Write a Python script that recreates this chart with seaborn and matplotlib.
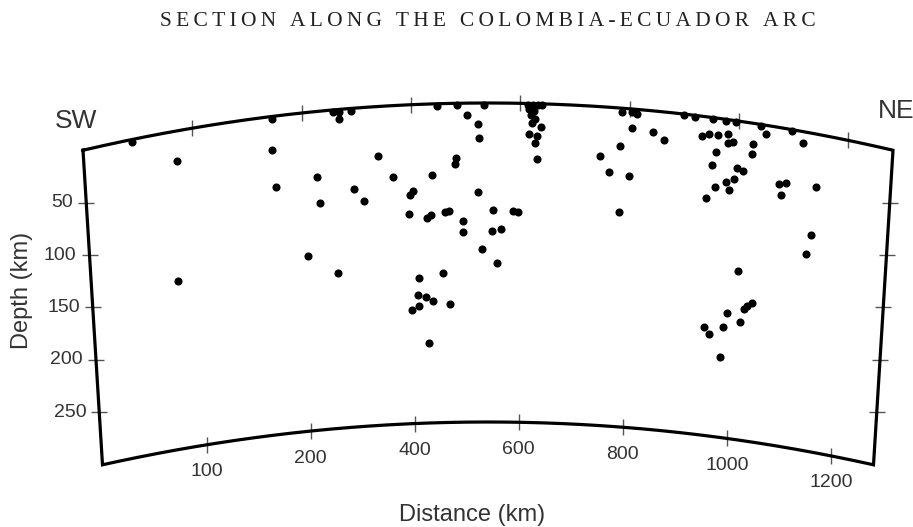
import numpy as np
import pandas as pd
import matplotlib
matplotlib.use("Agg")
import matplotlib.pyplot as plt
import matplotlib.transforms as mtransforms
import seaborn as sns

# ---------------- data ----------------
distance_km = [-110, -31, -39, 146, 144, 149, 204, 225, 229, 257, 268, 268, 290, 260, 293,
               311, 338, 365, 396, 402, 394, 411, 437, 427, 435, 448, 461, 468, 456, 409,
               424, 437, 469, 397, 411, 429, 482, 480, 484, 503, 494, 494, 534, 523, 524,
               522, 550, 588, 597, 549, 565, 530, 558, 614, 623, 632, 640, 616, 625, 620,
               627, 622, 638, 616, 631, 628, 631, 786, 805, 814, 805, 844, 864, 784, 747,
               765, 802, 785, 900, 920, 953, 977, 995, 1041, 1097, 934, 946, 963, 981, 991,
               982, 1050, 1027, 1026, 1118, 960, 954, 1000, 1011, 995, 981, 987, 961, 945, 1078,
               1091, 1083, 1146, 1141, 1133, 1009, 1038, 1028, 1023, 992, 1017, 985, 949, 959, 981]
depth_km = [2, 28, 141, 2, 32, 67, 135, 62, 86, 2, 2, 9, 2, 154, 76,
            88, 47, 67, 85, 81, 103, 163, 67, 107, 104, 2, 102, 101, 159, 179,
            181, 185, 189, 193, 190, 225, 51, 57, 2, 11, 111, 121, 2, 20, 33,
            84, 101, 101, 102, 120, 118, 137, 150, 1, 1, 1, 1, 5, 7, 11,
            14, 18, 22, 29, 30, 37, 52, 4, 3, 4, 18, 20, 26, 36, 46,
            61, 63, 98, 1, 2, 1, 2, 1, 1, 1, 19, 16, 16, 14, 20,
            22, 8, 20, 29, 11, 32, 45, 44, 46, 55, 59, 66, 65, 76, 53,
            51, 63, 50, 96, 115, 141, 169, 173, 176, 182, 189, 196, 198, 204, 224]

dist_ticks = [0, 200, 400, 600, 800, 1000, 1200]
dist_tick_labels = ["100", "200", "400", "600", "800", "1000", "1200"]
depth_ticks = [50, 100, 150, 200, 250]
depth_tick_labels = ["50", "100", "150", "200", "250"]
dist_limits = (-200, 1282)
depth_limits = (0, 300)
title_text = "SECTION ALONG THE COLOMBIA-ECUADOR ARC"
left_end, right_end = "SW", "NE"
x_label, y_label = "Distance (km)", "Depth (km)"

df = pd.DataFrame({"distance": distance_km, "depth": depth_km})


# ---------------- curved section transform ----------------
class SectionTransform(mtransforms.Transform):
    """(distance, depth) -> figure pixel position on a curved cross-section."""
    input_dims = 2
    output_dims = 2
    is_separable = False
    has_inverse = False

    def __init__(self, d0, d1, z1, cx, w_top, w_bot, y_top, y_bot, k):
        super().__init__()
        self.d0, self.d1, self.z1 = d0, d1, z1
        self.cx, self.w_top, self.w_bot = cx, w_top, w_bot
        self.y_top, self.y_bot, self.k = y_top, y_bot, k

    def transform_non_affine(self, values):
        v = np.asarray(values, dtype=float)
        single = v.ndim == 1
        v = np.atleast_2d(v)
        d, z = v[:, 0], v[:, 1]
        f = (d - self.d0) / (self.d1 - self.d0)
        t = z / self.z1
        w = self.w_top + (self.w_bot - self.w_top) * t
        u = self.cx + (2 * f - 1) * w
        y = self.y_top + (self.y_bot - self.y_top) * t + self.k * (u - self.cx) ** 2
        out = np.column_stack([u, y])
        return out[0] if single else out


W, H = 913, 527
sns.set_style("white")
plt.rcParams["font.family"] = ["Liberation Sans", "DejaVu Sans"]

fig = plt.figure(figsize=(W / 100, H / 100), dpi=100)
ax = fig.add_axes([0, 0, 1, 1])
ax.set_autoscale_on(False)
ax.set_xlim(0, W)
ax.set_ylim(H, 0)
ax.axis("off")

sec = SectionTransform(dist_limits[0], dist_limits[1], depth_limits[1],
                       488, 405, 385.5, 103, 422, 2.88e-4)
trans = sec + ax.transData

# frame
n = 200
fd = np.concatenate([np.linspace(dist_limits[0], dist_limits[1], n),
                     np.full(20, dist_limits[1]),
                     np.linspace(dist_limits[1], dist_limits[0], n),
                     np.full(20, dist_limits[0])])
fz = np.concatenate([np.full(n, depth_limits[0]),
                     np.linspace(depth_limits[0], depth_limits[1], 20),
                     np.full(n, depth_limits[1]),
                     np.linspace(depth_limits[1], depth_limits[0], 20)])
ax.plot(fd, fz, color="black", lw=2.3, transform=trans, solid_joinstyle="miter",
        solid_capstyle="projecting", zorder=3)

tick_color = "#555555"
txt_color = "#333333"
# distance ticks (top and bottom)
ax.plot(dist_ticks, [depth_limits[0]] * len(dist_ticks), ls="none", marker="|",
        ms=11, mew=1.0, color=tick_color, transform=trans, zorder=2)
ax.plot(dist_ticks, [depth_limits[1]] * len(dist_ticks), ls="none", marker="|",
        ms=11, mew=1.0, color=tick_color, transform=trans, zorder=2)
# depth ticks (left and right)
ax.plot([dist_limits[0]] * len(depth_ticks), depth_ticks, ls="none", marker="_",
        ms=11, mew=1.0, color=tick_color, transform=trans, zorder=2)
ax.plot([dist_limits[1]] * len(depth_ticks), depth_ticks, ls="none", marker="_",
        ms=12, mew=1.0, color=tick_color, transform=trans, zorder=2)

# tick labels
lab_fs = 14
bot_tr = mtransforms.offset_copy(trans, fig=fig, x=0, y=-27, units="dots")
for dpos, lab in zip(dist_ticks, dist_tick_labels):
    ax.text(dpos, depth_limits[1], lab, transform=bot_tr, ha="center", va="center",
            fontsize=lab_fs, color=txt_color)
left_tr = mtransforms.offset_copy(trans, fig=fig, x=-13, y=0, units="dots")
for zpos, lab in zip(depth_ticks, depth_tick_labels):
    ax.text(dist_limits[0], zpos, lab, transform=left_tr, ha="right", va="center",
            fontsize=lab_fs, color=txt_color)

# scatter of events
sns.scatterplot(data=df, x="distance", y="depth", ax=ax, transform=trans,
                color="black", s=34, linewidth=0, legend=False, zorder=4)
ax.set_xlim(0, W)
ax.set_ylim(H, 0)
ax.axis("off")

# end labels
sw_tr = mtransforms.offset_copy(trans, fig=fig, x=-7, y=29, units="dots")
ax.text(dist_limits[0], depth_limits[0], left_end, transform=sw_tr, ha="center",
        va="center", fontsize=19, color=txt_color)
ne_tr = mtransforms.offset_copy(trans, fig=fig, x=-15, y=39, units="dots")
ax.text(dist_limits[1], depth_limits[0], right_end, transform=ne_tr, ha="left",
        va="center", fontsize=19, color=txt_color)

# axis labels and title (title letter-spaced with thin spaces)
ax.text(472, 515, x_label, ha="center", va="center", fontsize=17, color=txt_color)
ax.text(22, 290, y_label, ha="center", va="center", rotation=90, fontsize=17,
        color=txt_color)
spaced_title = "\u2009".join(title_text)
ax.text(488, 22, spaced_title, ha="center", va="center", fontsize=15.5,
        family=["Liberation Serif", "DejaVu Serif"], color="#222222")

fig.savefig("out.png", dpi=100)
